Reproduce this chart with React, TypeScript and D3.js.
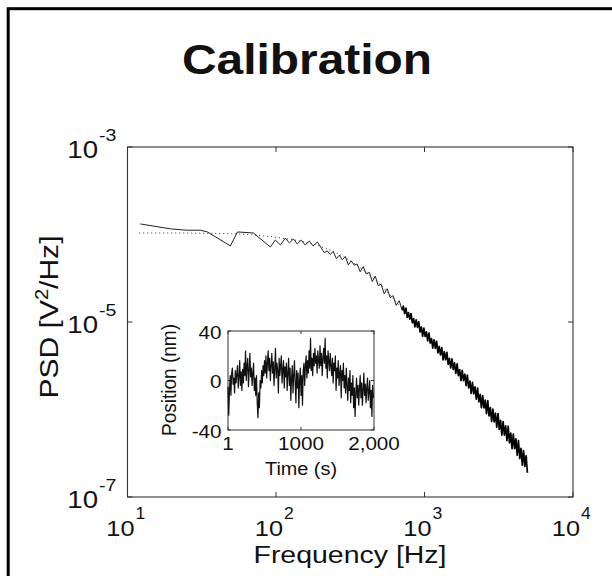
import React from "react";
import * as d3 from "d3";

// ---------- text ----------
const titleText = "Calibration";
const xAxisLabel = "Frequency [Hz]";
const insetXLabel = "Time (s)";
const insetYLabel = "Position (nm)";

// ---------- main axes ----------
const xTickValues = [10, 100, 1000, 10000];
const xTickExponents = ["1", "2", "3", "4"];
const yTickValues = [1e-7, 1e-5, 1e-3];
const yTickExponents = ["-7", "-5", "-3"];

// ---------- PSD data (frequency in Hz, PSD in V^2/Hz) ----------
const psdFreqHz = [
  12.2, 19.5, 24.9, 31.0, 34.5, 49.3, 55.0, 70.5, 91.6, 98.9,
  107, 115.6, 123, 131, 139, 148, 157, 167.5, 178, 190,
  202, 211, 221, 232, 243, 255, 267, 279, 293, 307,
  321, 336.5, 352, 369, 387, 405, 425, 445, 466, 488,
  511, 535, 561, 587, 615, 644, 676, 708,
  720, 735, 750, 765, 780, 796, 812, 828, 845, 862,
  879, 897, 915, 933, 952, 971, 990, 1010, 1030, 1051,
  1072, 1093, 1115, 1137, 1160, 1183, 1207, 1231, 1256, 1281,
  1307, 1333, 1360, 1387, 1415, 1443, 1472, 1501, 1531, 1562,
  1593, 1625, 1658, 1691, 1725, 1760, 1795, 1831, 1868, 1905,
  1943, 1982, 2022, 2062, 2103, 2145, 2188, 2232, 2277, 2322,
  2369, 2416, 2464, 2514, 2564, 2615, 2668, 2721, 2776, 2831,
  2888, 2945, 3004, 3065, 3126, 3188, 3252, 3317, 3384, 3451,
  3520, 3591, 3662, 3736, 3810, 3887, 3964, 4044, 4125, 4207,
  4291, 4377, 4465, 4554, 4645, 4738, 4833, 4930,
];
const psdValues = [
  1.32e-4, 1.16e-4, 1.12e-4, 1.12e-4, 1.07e-4, 7.4e-5, 1.07e-4, 1.04e-4, 7.2e-5, 8.65e-5,
  7.6e-5, 9.1e-5, 8.0e-5, 8.9e-5, 7.8e-5, 8.65e-5, 7.6e-5, 8.4e-5, 7.4e-5, 8.2e-5,
  7.0e-5, 6.2e-5, 6.5e-5, 5.9e-5, 6.4e-5, 5.3e-5, 5.8e-5, 5.15e-5, 5.6e-5, 4.5e-5,
  5.0e-5, 4.45e-5, 4.6e-5, 3.75e-5, 4.3e-5, 3.55e-5, 3.7e-5, 2.9e-5, 3.35e-5, 2.6e-5,
  2.7e-5, 2.1e-5, 2.4e-5, 1.9e-5, 2.0e-5, 1.55e-5, 1.75e-5, 1.36e-5,
  15.2e-6, 12.5e-6, 14.4e-6, 11.3e-6, 12.8e-6, 10.8e-6, 12.5e-6, 9.83e-6, 10.9e-6, 8.80e-6,
  10.6e-6, 8.70e-6, 10.1e-6, 7.70e-6, 8.77e-6, 6.87e-6, 8.51e-6, 6.84e-6, 7.72e-6, 6.07e-6,
  7.49e-6, 5.75e-6, 6.46e-6, 5.04e-6, 6.27e-6, 5.00e-6, 6.03e-6, 4.44e-6, 5.25e-6, 4.21e-6,
  5.09e-6, 3.69e-6, 4.60e-6, 3.70e-6, 4.49e-6, 3.28e-6, 3.84e-6, 2.98e-6, 3.80e-6, 2.88e-6,
  3.42e-6, 2.58e-6, 3.33e-6, 2.44e-6, 2.85e-6, 2.13e-6, 2.81e-6, 2.14e-6, 2.53e-6, 1.87e-6,
  2.47e-6, 1.77e-6, 2.11e-6, 1.53e-6, 2.04e-6, 1.51e-6, 1.82e-6, 1.31e-6, 1.76e-6, 1.22e-6,
  1.49e-6, 1.05e-6, 1.44e-6, 1.04e-6, 1.28e-6, 0.899e-6, 1.26e-6, 0.843e-6, 1.05e-6, 0.729e-6,
  1.01e-6, 0.722e-6, 0.909e-6, 0.628e-6, 0.899e-6, 0.591e-6, 0.753e-6, 0.510e-6, 0.727e-6, 0.509e-6,
  0.651e-6, 0.440e-6, 0.644e-6, 0.414e-6, 0.538e-6, 0.357e-6, 0.524e-6, 0.357e-6, 0.463e-6, 0.301e-6,
  0.441e-6, 0.275e-6, 0.360e-6, 0.231e-6, 0.340e-6, 0.224e-6, 0.296e-6, 0.189e-6,
];
// frequency above which the trace is drawn as the dense (thicker) band
const denseBandFromHz = 708;

// ---------- Lorentzian fit (dotted) ----------
const fitFreqHz = [12, 20, 30, 50, 70, 100, 150, 200, 300, 400, 500, 700, 1000, 1500, 2000, 3000, 4000, 5000];
const fitValues = [
  1.04e-4, 1.04e-4, 1.035e-4, 1.02e-4, 9.9e-5, 9.3e-5, 8.3e-5, 7.3e-5, 5.3e-5, 3.75e-5,
  2.7e-5, 1.45e-5, 7.5e-6, 3.5e-6, 2.0e-6, 8.2e-7, 4.4e-7, 2.7e-7,
];

// ---------- inset: position trace (nm), one value every 10 s from t = 1 s ----------
const insetStartSeconds = 1;
const insetStepSeconds = 10;
const insetPositionNm = [
  -5, -28, -8, 4, -12, 6, 10, -3, 2, -10, 8, -2, 5, 12, -6, 3, 16, -4, 7, -8,
  9, -2, 14, 4, 24, 0, 12, 18, -5, 8, 22, 3, 10, -4, 6, 14, -8, 2, -12, 4,
  -18, -30, -10, -22, 0, -6, 8, -2, 12, 4, 16, 6, 20, 2, 14, 24, 8, 18, 0, 12,
  22, 6, 15, -4, 10, 26, 2, 14, 8, -10, 18, 4, 12, 20, -2, 9, 16, -6, 11, 3,
  14, -8, 6, 18, -4, 10, -16, 2, 12, -10, 4, 16, -2, -18, 8, -6, 6, -22, 0, 10,
  -12, 4, -20, 8, 14, -4, 12, 20, 2, 16, 6, 24, 10, 34, 8, 18, 4, 22, 12, 26,
  14, 20, 6, 24, 16, 10, 28, 12, 22, 4, 18, 26, 14, 34, 10, 20, 2, 24, 16, 8,
  22, 12, 4, 18, -2, 14, 8, 20, -8, 10, 2, 16, -4, 6, 12, -14, 8, 0, 14, -6,
  4, -10, 10, -4, -16, 2, -8, 8, -18, -2, -12, 4, -22, -6, -29, -10, 2, -14, -4, -20,
  -6, 4, -14, -2, -20, -8, 6, -12, -3, -18, -6, 2, -16, -9, 0, -22, -8, -29, -4, -14,
];
const insetXTicks = [1, 1000, 2000];
const insetXTickLabels = ["1", "1000", "2,000"];
const insetYTicks = [-40, 0, 40];
const insetYTickLabels = ["-40", "0", "40"];

const FONT = "'Liberation Sans', Arial, Helvetica, sans-serif";

type TP = {
  x: number; y: number; size: number; anchor?: "start" | "middle" | "end";
  sx?: number; weight?: string; rotate?: number; len?: number; children: React.ReactNode;
};
function Txt({ x, y, size, anchor = "start", sx = 1.15, weight = "normal", rotate = 0, len, children }: TP) {
  const tr = `translate(${x},${y}) scale(${sx},1)` + (rotate ? ` rotate(${rotate})` : "");
  return (
    <text
      transform={tr}
      fontSize={size}
      textAnchor={anchor}
      fontWeight={weight}
      fill="#111"
      textLength={len}
      lengthAdjust={len ? "spacingAndGlyphs" : undefined}
    >
      {children}
    </text>
  );
}

export default function App() {
  const W = 612, H = 576;
  const L = 127.5, R = 573, T = 147, B = 497;
  const x = d3.scaleLog().domain([10, 1e4]).range([L, R]);
  const y = d3.scaleLog().domain([1e-7, 1e-3]).range([B, T]);

  const psdPts: [number, number][] = psdFreqHz.map((f, i) => [f, psdValues[i]]);
  const lowPts = psdPts.filter((d) => d[0] <= denseBandFromHz);
  const highPts = psdPts.filter((d) => d[0] >= denseBandFromHz);
  const fitPts: [number, number][] = fitFreqHz.map((f, i) => [f, fitValues[i]]);
  const line = d3.line<[number, number]>().x((d) => x(d[0])).y((d) => y(d[1]));
  const fitLine = d3
    .line<[number, number]>()
    .x((d) => x(d[0]))
    .y((d) => y(d[1]))
    .curve(d3.curveMonotoneX);

  // inset
  const iL = 228, iR = 374, iT = 331, iB = 430;
  const ix = d3.scaleLinear().domain([1, 2000]).range([iL, iR]);
  const iy = d3.scaleLinear().domain([-40, 40]).range([iB, iT]);
  const insetPts: [number, number][] = insetPositionNm.map((v, i) => [insetStartSeconds + i * insetStepSeconds, v]);
  const insetLine = d3.line<[number, number]>().x((d) => ix(d[0])).y((d) => iy(d[1]));

  const tickLen = 5;
  const frameStroke = "#333";

  return (
    <svg
      width={W}
      height={H}
      style={{ position: "absolute", left: 0, top: 0, background: "#fff" }}
      fontFamily={FONT}
    >
      <rect x={0} y={0} width={W} height={H} fill="#fff" />
      {/* outer figure border */}
      <rect x={8.2} y={8.7} width={700} height={700} fill="none" stroke="#000" strokeWidth={3} />

      {/* title */}
      <Txt x={307} y={74} size={43} anchor="middle" sx={1} weight="bold" len={250}>
        {titleText}
      </Txt>

      {/* main plot frame */}
      <rect x={L} y={T} width={R - L} height={B - T} fill="#fff" stroke={frameStroke} strokeWidth={1.1} />

      {/* ticks */}
      {xTickValues.map((v, i) => (
        <g key={"xt" + i}>
          <line x1={x(v)} x2={x(v)} y1={B} y2={B - tickLen} stroke={frameStroke} />
          <line x1={x(v)} x2={x(v)} y1={T} y2={T + tickLen} stroke={frameStroke} />
        </g>
      ))}
      {yTickValues.map((v, i) => (
        <g key={"yt" + i}>
          <line x1={L} x2={L + tickLen} y1={y(v)} y2={y(v)} stroke={frameStroke} />
          <line x1={R} x2={R - tickLen} y1={y(v)} y2={y(v)} stroke={frameStroke} />
        </g>
      ))}

      {/* x tick labels 10^n */}
      {xTickValues.map((v, i) => (
        <g key={"xl" + i}>
          <Txt x={x(v) + 7} y={536} size={22} anchor="end" sx={1.15}>10</Txt>
          <Txt x={x(v) + 8} y={519} size={16} sx={1.1}>{xTickExponents[i]}</Txt>
        </g>
      ))}
      {/* y tick labels 10^n */}
      {yTickValues.map((v, i) => (
        <g key={"yl" + i}>
          <Txt x={98} y={y(v) + 11} size={24} anchor="end">10</Txt>
          <Txt x={99} y={y(v) - 6} size={17}>{yTickExponents[i]}</Txt>
        </g>
      ))}

      {/* axis labels */}
      <Txt x={350} y={563} size={23} anchor="middle" sx={1} len={193}>
        {xAxisLabel}
      </Txt>
      <text
        transform={`translate(58,317) scale(1.1,1) rotate(-90)`}
        fontSize={24}
        textAnchor="middle"
        fill="#111"
        textLength={163}
        lengthAdjust="spacingAndGlyphs"
      >
        PSD [V<tspan dy={-9} fontSize={16}>2</tspan>
        <tspan dy={9}>/Hz]</tspan>
      </text>

      {/* data */}
      <path d={fitLine(fitPts) || ""} fill="none" stroke="#333" strokeWidth={1} strokeDasharray="1,3" />
      <path d={line(lowPts) || ""} fill="none" stroke="#222" strokeWidth={1} strokeLinejoin="round" />
      <path d={line(highPts) || ""} fill="none" stroke="#000" strokeWidth={1.7} strokeLinejoin="round" />

      {/* inset */}
      <rect x={iL} y={iT} width={iR - iL} height={iB - iT} fill="#fff" stroke={frameStroke} strokeWidth={1} />
      {insetXTicks.map((v, i) => (
        <g key={"ixt" + i}>
          <line x1={ix(v)} x2={ix(v)} y1={iB} y2={iB - 3} stroke={frameStroke} />
          <line x1={ix(v)} x2={ix(v)} y1={iT} y2={iT + 3} stroke={frameStroke} />
          <Txt x={ix(v)} y={450} size={17.5} anchor="middle" sx={1.18}>
            {insetXTickLabels[i]}
          </Txt>
        </g>
      ))}
      {insetYTicks.map((v, i) => (
        <g key={"iyt" + i}>
          <line x1={iL} x2={iL + 3} y1={iy(v)} y2={iy(v)} stroke={frameStroke} />
          <line x1={iR} x2={iR - 3} y1={iy(v)} y2={iy(v)} stroke={frameStroke} />
          <Txt x={221.5} y={iy(v) + 7.5} size={17.5} anchor="end" sx={1.18}>
            {insetYTickLabels[i]}
          </Txt>
        </g>
      ))}
      <path d={insetLine(insetPts) || ""} fill="none" stroke="#111" strokeWidth={1.2} strokeLinejoin="round" />
      <Txt x={301} y={475} size={18} anchor="middle" sx={1} len={72}>
        {insetXLabel}
      </Txt>
      <Txt x={176} y={380} size={18} anchor="middle" sx={1.15} rotate={-90} len={112}>
        {insetYLabel}
      </Txt>
    </svg>
  );
}
